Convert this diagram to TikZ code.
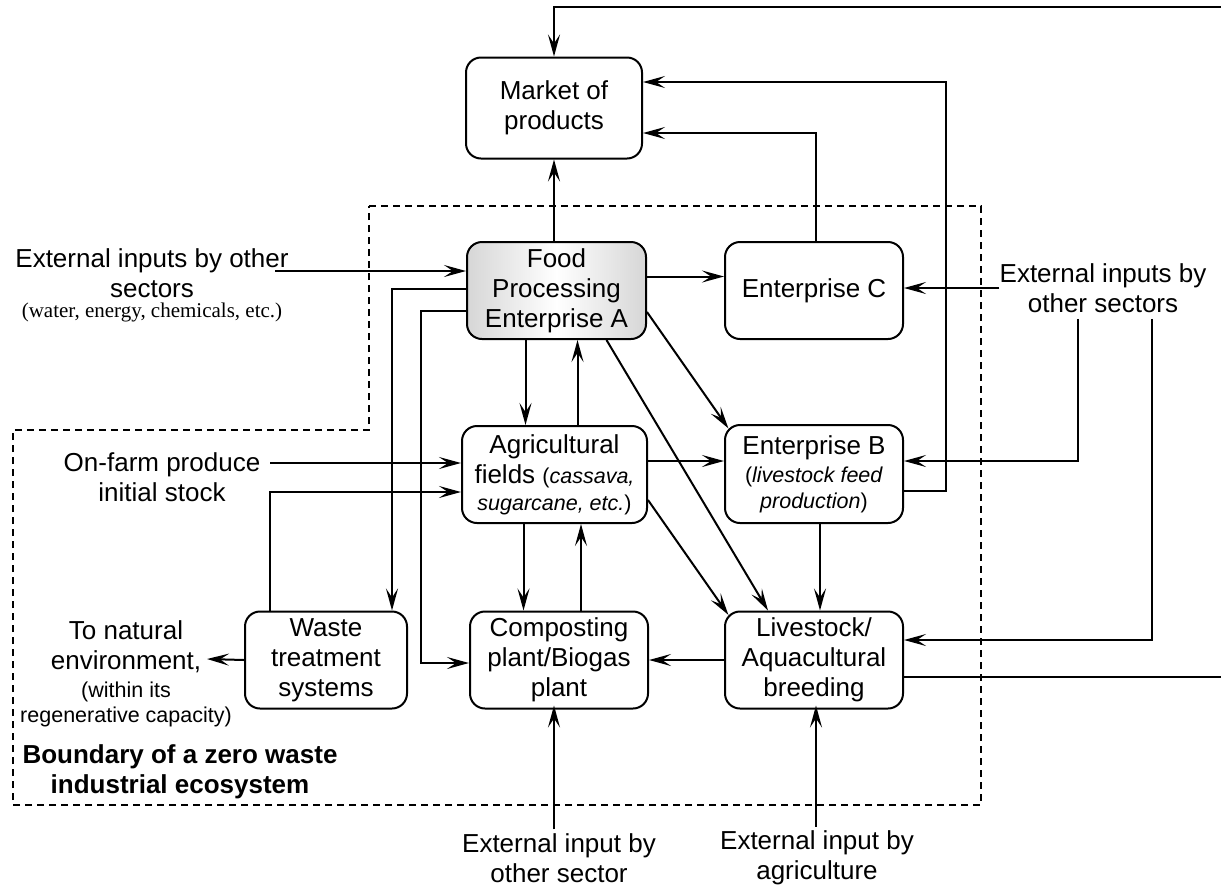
\documentclass[tikz,border=0pt]{standalone}
\usepackage{fontspec}
\setmainfont{Liberation Sans}
\newfontfamily\timesfont{Liberation Serif}
\usetikzlibrary{arrows.meta,calc}
\begin{document}
\begin{tikzpicture}[x=1pt,y=-1pt,
  box/.style={draw, line width=2pt, rounded corners=15pt, align=center, inner sep=0pt, font=\fontsize{26}{30}\selectfont},
  arr/.style={line width=2pt, -{Stealth[length=22pt,width=12pt,inset=9pt]}},
  ln/.style={line width=2pt},
  lbl/.style={align=center, font=\fontsize{26}{30}\selectfont, inner sep=0pt},
  smalllbl/.style={align=center, font=\fontsize{21.5}{25}\selectfont, inner sep=0pt},
  bnddash/.style={line width=1.6pt, dash pattern=on 7pt off 5pt},
]
\useasboundingbox (0,0) rectangle (1221,887);

% boundary
\draw[bnddash] (369,206) -- (981,206) -- (981,805) -- (13,805) -- (13,430) -- (369,430) -- cycle;

% boxes
\node[box, minimum width=176pt, minimum height=101pt] (market) at (554,108) {Market of\\products};
\node[box, left color=gray!32, right color=gray!32, middle color=white, minimum width=179pt, minimum height=97pt] (foodA) at (556.5,290.5) {Food\\Processing\\Enterprise A};
\node[box, minimum width=178pt, minimum height=97pt] (entC) at (814,290.5) {Enterprise C};
\node[box, minimum width=185pt, minimum height=97pt] (ag) at (554.5,474.5) {Agricultural\\fields {\fontsize{21.5}{26}\selectfont(\textit{cassava,}}\\[-3pt]{\fontsize{21.5}{26}\selectfont\textit{sugarcane, etc.})}};
\node[box, minimum width=178pt, minimum height=98pt] (entB) at (814,474) {Enterprise B\\[-2pt]{\fontsize{21.5}{26}\selectfont(\textit{livestock feed}}\\[-4pt]{\fontsize{21.5}{26}\selectfont\textit{production})}};
\node[box, minimum width=162pt, minimum height=97pt] (waste) at (326,660) {Waste\\treatment\\systems};
\node[box, minimum width=178pt, minimum height=97pt] (comp) at (559,660) {Composting\\plant/Biogas\\plant};
\node[box, minimum width=178pt, minimum height=97pt] (live) at (814,660) {Livestock/\\Aquacultural\\breeding};

% labels
\node[lbl] (extL) at (152,273) {External inputs by other\\sectors};
\node[align=center, inner sep=0pt, font=\timesfont\fontsize{21}{25}\selectfont] (extLsub) at (152,312) {(water, energy, chemicals, etc.)};
\node[lbl] (extR) at (1103,288) {External inputs by\\other sectors};
\node[lbl] (onfarm) at (162,477) {On-farm produce\\initial stock};
\node[lbl] (nat) at (126,647) {To natural\\environment,};
\node[smalllbl] (natsub) at (126,704) {(within its\\regenerative capacity)};
\node[lbl, font=\bfseries\fontsize{26}{30}\selectfont] (bnd) at (180,772) {Boundary of a zero waste\\industrial ecosystem};
\node[lbl] (extB1) at (559,858) {External input by\\other sector};
\node[lbl] (extB2) at (817,858) {External input by\\agriculture};

% free ends
\coordinate (rtop) at (1221,7);
\coordinate (rbot) at (1221,677);
\coordinate (extLin) at (275,271);
\coordinate (onfarmout) at (270,463);
\coordinate (natin) at (207,659);

% connectors
\draw[arr] (rtop) -| (market.north);
\draw[arr] (foodA.north -| market.south) -- (market.south);
\draw[arr] ([xshift=2pt]entC.north) |- ([yshift=-25pt]market.east);
\draw[arr] ([yshift=-17pt]entB.east) -- ++(42,0) |- ([yshift=26pt]market.east);
\draw[arr] ([yshift=14pt]foodA.east) -- ([yshift=14pt]foodA.east -| entC.west);
\draw[arr] (extR.west) -- (extR.west -| entC.east);
\draw[arr] ([shift={(-25pt,-6pt)}]extR.south) |- ([yshift=13pt]entB.east);
\draw[arr] ([shift={(49pt,-6pt)}]extR.south) |- ([yshift=20pt]live.east);
\draw[ln] ([yshift=-17pt]live.east) -- (rbot);
\draw[arr] ([yshift=-21.5pt]foodA.east) -- ([shift={(4.4pt,-4.4pt)}]entB.north west);
\draw[arr] ([xshift=50pt]foodA.south) -- ([xshift=-46pt]live.north);
\draw[arr] ([xshift=-31pt]foodA.south) -- ([xshift=-31pt]foodA.south |- ag.north);
\draw[arr] ([xshift=21pt]foodA.south |- ag.north) -- ([xshift=21pt]foodA.south);
\draw[arr] ([xshift=-31pt]ag.south) -- ([xshift=-31pt]ag.south |- comp.north);
\draw[arr] ([xshift=22pt]comp.north) -- ([xshift=22pt]comp.north |- ag.south);
\draw[arr] ([yshift=13.5pt]ag.east) -- ([yshift=13.5pt]ag.east -| entB.west);
\draw[arr] ([yshift=-25.5pt]ag.east) -- ([shift={(4.4pt,-4.4pt)}]live.north west);
\draw[arr] ([xshift=6pt]entB.south) -- ([xshift=6pt]entB.south |- live.north);
\draw[arr] (live.west) -- (comp.east);
\draw[arr] ([yshift=1.5pt]foodA.west) -| ([xshift=66pt]waste.north);
\draw[arr] ([yshift=-20.5pt]foodA.west) -- ++(-45,0) |- ([yshift=-3pt]comp.west);
\draw[arr] (extLin) -- (extLin -| foodA.west);
\draw[arr] (onfarmout) -- (onfarmout -| ag.west);
\draw[arr] ([xshift=-56pt]waste.north) |- ([yshift=-17.5pt]ag.west);
\draw[arr] (waste.west) -- (natin);
\draw[arr] ([shift={(-5pt,4pt)}]extB1.north) -- ([shift={(-5pt,4pt)}]extB1.north |- comp.south);
\draw[arr] ([shift={(-1pt,4pt)}]extB2.north) -- ([shift={(-1pt,4pt)}]extB2.north |- live.south);
\end{tikzpicture}
\end{document}
